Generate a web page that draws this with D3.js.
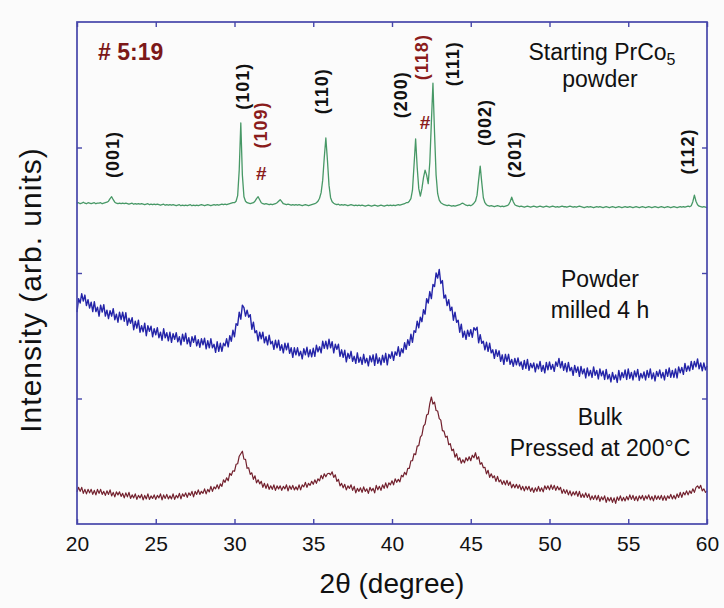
<!DOCTYPE html>
<html>
<head>
<meta charset="utf-8">
<script src="https://cdn.jsdelivr.net/npm/d3@7"></script>
<style>
  body { margin: 0; background: #fbfbfb; }
  svg { display: block; font-family: "Liberation Sans", Arial, Helvetica, sans-serif; }
</style>
</head>
<body>
<div id="xrd"><svg width="724" height="608"></svg></div>
<script>
// 2-theta scan grid, 0.1 degree steps from 20 to 60
var angles = d3.range(200, 601).map(function(i) { return i / 10; });

// intensities (offset for display), one row per degree
var startingPowder = [
  63.9, 64.0, 63.8, 63.9, 64.1, 63.9, 63.8, 64.0, 63.9, 63.8,
  63.9, 64.0, 63.8, 63.9, 63.9, 64.0, 63.8, 63.9, 64.0, 64.1,
  64.3, 64.8, 65.2, 64.6, 64.1, 63.9, 63.8, 63.9, 63.8, 63.9,
  63.8, 63.9, 63.8, 63.7, 63.8, 63.9, 63.7, 63.8, 63.7, 63.8,
  63.7, 63.8, 63.7, 63.6, 63.7, 63.8, 63.6, 63.7, 63.6, 63.7,
  63.6, 63.7, 63.6, 63.5, 63.6, 63.7, 63.5, 63.6, 63.5, 63.6,
  63.5, 63.6, 63.5, 63.4, 63.5, 63.6, 63.4, 63.5, 63.4, 63.5,
  63.4, 63.5, 63.6, 63.4, 63.5, 63.4, 63.5, 63.4, 63.5, 63.6,
  63.5, 63.4, 63.5, 63.6, 63.5, 63.4, 63.5, 63.6, 63.5, 63.6,
  63.5, 63.6, 63.7, 63.6, 63.7, 63.6, 63.7, 63.8, 63.9, 64.0,
  64.0, 64.3, 65.4, 70.5, 79.9, 69.5, 65.2, 64.3, 64.0, 63.9,
  63.8, 63.9, 64.0, 64.3, 64.8, 65.2, 64.6, 64.0, 63.8, 63.7,
  63.8, 63.7, 63.6, 63.7, 63.6, 63.7, 63.8, 64.0, 64.3, 64.6,
  64.2, 63.8, 63.7, 63.6, 63.7, 63.6, 63.5, 63.6, 63.5, 63.6,
  63.5, 63.6, 63.5, 63.4, 63.5, 63.6, 63.5, 63.4, 63.5, 63.6,
  63.7, 63.8, 64.0, 64.3, 64.9, 66.0, 68.5, 73.0, 76.9, 72.5,
  67.5, 65.0, 64.2, 63.9, 63.7, 63.6, 63.7, 63.5, 63.6, 63.5,
  63.6, 63.5, 63.4, 63.5, 63.6, 63.5, 63.4, 63.5, 63.4, 63.5,
  63.4, 63.5, 63.4, 63.3, 63.4, 63.5, 63.4, 63.3, 63.4, 63.5,
  63.4, 63.3, 63.4, 63.5, 63.4, 63.3, 63.4, 63.5, 63.4, 63.5,
  63.4, 63.5, 63.4, 63.5, 63.6, 63.5, 63.6, 63.7, 63.8, 64.0,
  64.0, 64.3, 64.8, 66.5, 71.5, 76.7, 71.0, 66.8, 65.3, 66.8,
  69.0, 70.5, 69.5, 67.8, 72.0, 80.0, 87.8, 78.0, 69.5, 65.8,
  64.5, 64.0, 63.8, 63.6, 63.5, 63.4, 63.5, 63.4, 63.3, 63.4,
  63.3, 63.4, 63.5, 63.6, 63.8, 63.9, 63.7, 63.5, 63.4, 63.5,
  63.4, 63.6, 63.9, 64.3, 65.5, 68.5, 71.3, 68.0, 65.0, 64.0,
  63.6, 63.4, 63.3, 63.4, 63.3, 63.2, 63.3, 63.4, 63.3, 63.2,
  63.3, 63.2, 63.3, 63.4, 63.6, 64.2, 65.1, 64.2, 63.6, 63.4,
  63.3, 63.2, 63.3, 63.2, 63.1, 63.2, 63.3, 63.2, 63.1, 63.2,
  63.3, 63.2, 63.1, 63.2, 63.3, 63.2, 63.1, 63.2, 63.3, 63.2,
  63.1, 63.2, 63.3, 63.2, 63.1, 63.2, 63.1, 63.2, 63.3, 63.2,
  63.2, 63.1, 63.2, 63.3, 63.2, 63.1, 63.2, 63.1, 63.2, 63.3,
  63.2, 63.1, 63.0, 63.1, 63.2, 63.1, 63.2, 63.1, 63.0, 63.1,
  63.2, 63.1, 63.2, 63.1, 63.0, 63.1, 63.2, 63.1, 63.0, 63.1,
  63.2, 63.1, 63.0, 63.1, 63.2, 63.1, 63.0, 63.1, 63.2, 63.1,
  63.1, 63.2, 63.1, 63.0, 63.1, 63.2, 63.1, 63.0, 63.1, 63.2,
  63.1, 63.0, 63.1, 63.2, 63.1, 63.0, 63.1, 63.2, 63.1, 63.0,
  63.1, 63.2, 63.1, 63.0, 63.1, 63.2, 63.1, 63.0, 63.1, 63.2,
  63.1, 63.0, 63.1, 63.2, 63.1, 63.2, 63.1, 63.2, 63.3, 63.2,
  63.4, 64.2, 65.5, 64.3, 63.6, 63.3, 63.2, 63.1, 63.2, 63.1,
  63.0
];

var milledPowder = [
  42.2, 44.9, 44.0, 45.9, 44.4, 45.6, 43.5, 44.7, 43.0, 44.2,
  42.3, 44.3, 42.3, 43.2, 41.4, 43.6, 42.2, 43.7, 41.4, 42.6,
  40.9, 42.5, 41.4, 42.9, 40.7, 41.8, 40.2, 42.2, 40.7, 42.2,
  40.4, 42.1, 39.6, 41.0, 40.0, 41.1, 38.7, 40.4, 39.0, 40.6,
  38.2, 39.5, 38.3, 40.0, 37.5, 39.5, 38.4, 39.4, 37.3, 38.9,
  37.7, 39.1, 37.1, 38.2, 36.6, 38.9, 37.1, 38.1, 36.5, 38.2,
  36.2, 37.9, 36.8, 38.1, 36.3, 37.3, 35.7, 37.8, 36.4, 38.0,
  35.9, 37.1, 35.4, 37.3, 36.2, 37.5, 35.5, 36.7, 35.2, 36.9,
  35.7, 37.0, 34.9, 36.5, 35.1, 36.9, 35.1, 35.8, 34.2, 36.3,
  34.4, 36.0, 34.4, 36.0, 35.5, 36.9, 35.3, 37.5, 36.4, 38.6,
  37.3, 39.9, 39.6, 42.2, 40.8, 43.6, 43.1, 41.4, 42.6, 41.2,
  41.7, 38.8, 40.2, 38.1, 38.5, 36.5, 38.2, 36.9, 38.2, 36.1,
  37.3, 35.7, 37.6, 35.9, 36.4, 34.8, 36.6, 35.1, 36.6, 34.6,
  35.7, 34.1, 36.0, 34.7, 36.0, 34.0, 35.1, 33.2, 35.1, 33.7,
  35.1, 33.5, 34.4, 32.9, 34.9, 33.7, 35.2, 33.3, 34.7, 33.3,
  35.0, 33.4, 35.6, 34.3, 35.3, 34.1, 36.4, 35.0, 36.4, 34.9,
  36.8, 35.1, 36.3, 34.1, 35.8, 34.8, 35.8, 33.4, 34.7, 33.2,
  34.6, 32.3, 34.0, 33.0, 34.4, 32.4, 33.4, 32.0, 34.1, 32.2,
  33.2, 31.8, 33.8, 32.1, 33.0, 31.5, 33.5, 32.3, 33.7, 31.6,
  33.9, 32.0, 33.1, 31.7, 33.6, 32.2, 34.0, 31.7, 33.8, 33.0,
  34.3, 32.6, 34.3, 33.6, 35.3, 33.4, 34.9, 34.1, 36.1, 34.8,
  36.7, 35.6, 37.8, 36.2, 38.5, 38.2, 40.4, 39.1, 41.2, 40.3,
  42.7, 41.8, 44.9, 44.0, 46.3, 44.9, 47.7, 47.3, 50.0, 49.0,
  50.7, 47.9, 48.5, 45.0, 45.6, 43.5, 44.7, 42.5, 43.2, 40.6,
  42.2, 40.2, 40.6, 38.2, 39.8, 37.2, 38.4, 36.8, 38.6, 37.4,
  38.7, 37.2, 39.1, 38.6, 39.2, 36.1, 37.7, 36.0, 36.4, 34.7,
  36.2, 34.4, 36.0, 34.1, 34.7, 33.0, 34.7, 33.4, 34.5, 32.4,
  33.7, 31.8, 33.8, 32.4, 33.8, 31.8, 32.8, 31.4, 33.0, 31.7,
  33.1, 31.5, 32.3, 30.8, 32.6, 31.0, 32.8, 30.6, 32.0, 31.1,
  32.1, 30.3, 31.9, 30.9, 32.4, 30.4, 31.6, 30.1, 32.2, 30.7,
  32.3, 30.8, 31.8, 30.4, 32.3, 31.4, 33.0, 31.1, 32.4, 30.6,
  32.0, 30.3, 32.2, 30.5, 31.2, 29.6, 31.6, 30.2, 31.3, 29.4,
  31.4, 29.9, 30.9, 29.1, 31.1, 29.5, 30.6, 29.2, 31.3, 29.6,
  30.6, 28.9, 30.9, 29.5, 30.5, 28.8, 30.8, 28.9, 29.8, 28.3,
  30.2, 28.8, 29.7, 28.2, 30.6, 28.7, 30.2, 29.2, 30.7, 28.8,
  30.9, 29.0, 30.2, 28.7, 30.5, 29.3, 30.8, 28.6, 30.0, 29.1,
  30.3, 28.7, 30.6, 29.2, 30.9, 28.9, 30.1, 28.5, 30.4, 29.4,
  30.7, 29.1, 30.2, 28.7, 30.8, 29.4, 31.1, 29.2, 30.6, 29.2,
  30.9, 29.1, 31.3, 30.1, 31.2, 29.8, 32.0, 30.4, 31.5, 30.5,
  32.4, 30.8, 32.4, 31.3, 32.9, 30.9, 32.1, 30.5, 32.1, 30.7,
  31.5
];

var pressedBulk = [
  6.4, 7.3, 6.5, 7.3, 6.1, 6.9, 6.0, 6.9, 6.2, 6.9,
  5.9, 6.7, 5.8, 6.9, 6.1, 6.9, 5.9, 6.5, 5.7, 6.6,
  5.9, 6.8, 5.6, 6.3, 5.4, 6.4, 5.8, 6.4, 5.5, 6.1,
  5.2, 6.2, 5.4, 6.3, 5.1, 5.8, 5.2, 6.0, 4.9, 5.7,
  5.2, 5.9, 4.8, 5.7, 5.0, 6.0, 4.9, 5.6, 5.1, 5.8,
  4.9, 5.7, 5.2, 6.0, 4.8, 5.8, 5.1, 5.9, 5.0, 5.6,
  5.0, 6.0, 4.9, 5.7, 5.2, 6.1, 5.0, 6.0, 5.5, 6.2,
  5.3, 6.2, 5.7, 6.5, 5.4, 6.5, 5.9, 6.8, 5.9, 6.5,
  6.1, 7.0, 6.0, 6.9, 6.4, 7.5, 6.5, 7.4, 7.0, 7.8,
  7.0, 8.0, 7.5, 8.8, 8.3, 9.2, 8.6, 10.1, 9.7, 10.6,
  10.5, 11.9, 12.0, 13.5, 14.0, 14.5, 12.9, 12.9, 11.1, 11.2,
  9.9, 10.2, 8.9, 9.6, 8.2, 8.8, 8.0, 8.5, 7.3, 8.1,
  7.1, 8.0, 6.9, 7.6, 6.9, 7.8, 6.7, 7.6, 7.0, 7.6,
  6.7, 7.5, 7.0, 7.8, 6.6, 7.6, 6.9, 7.7, 6.8, 7.4,
  6.8, 7.8, 6.8, 7.8, 7.4, 8.3, 7.3, 8.1, 7.7, 8.5,
  7.9, 8.8, 8.1, 9.0, 8.6, 9.7, 9.0, 10.0, 9.4, 10.0,
  10.1, 9.8, 10.4, 9.3, 9.8, 8.5, 8.9, 7.6, 8.1, 7.2,
  7.9, 6.8, 7.6, 7.1, 7.8, 6.7, 7.5, 6.2, 7.1, 6.5,
  7.2, 6.3, 7.4, 6.5, 7.0, 6.1, 7.3, 6.6, 7.1, 6.2,
  7.7, 6.8, 7.5, 6.7, 7.8, 7.1, 8.2, 7.2, 8.2, 7.8,
  8.6, 7.8, 9.0, 8.3, 8.9, 8.4, 9.7, 9.4, 10.3, 9.8,
  11.1, 11.1, 12.6, 12.6, 14.0, 13.8, 15.5, 15.6, 17.3, 17.7,
  19.5, 19.9, 21.7, 21.9, 24.0, 25.3, 23.9, 24.3, 22.6, 22.5,
  21.0, 20.7, 18.6, 18.5, 17.3, 17.5, 15.8, 16.0, 14.6, 14.9,
  13.3, 14.0, 12.7, 13.2, 12.1, 12.8, 12.2, 13.2, 12.6, 13.4,
  12.6, 13.7, 13.2, 14.2, 12.9, 13.4, 11.9, 12.2, 11.2, 11.3,
  10.0, 10.7, 9.3, 10.0, 9.2, 9.6, 8.5, 9.5, 8.4, 8.8,
  7.9, 8.6, 7.8, 8.7, 7.7, 8.4, 7.2, 7.9, 7.2, 7.9,
  7.1, 7.8, 6.8, 7.5, 6.6, 7.5, 6.8, 7.5, 6.5, 7.2,
  6.3, 7.2, 6.5, 7.5, 6.5, 7.2, 6.4, 7.6, 6.9, 7.6,
  6.8, 7.8, 6.9, 7.7, 6.7, 7.5, 6.8, 7.3, 6.1, 6.9,
  6.1, 6.8, 5.8, 6.6, 5.6, 6.4, 5.8, 6.5, 5.5, 6.5,
  5.3, 6.0, 5.3, 6.2, 5.3, 6.0, 4.8, 5.6, 4.9, 5.7,
  4.8, 5.7, 4.5, 5.4, 4.8, 5.6, 4.3, 5.3, 4.6, 5.3,
  4.3, 5.2, 4.1, 5.4, 4.7, 5.6, 4.6, 5.3, 4.6, 5.5,
  4.8, 5.8, 4.9, 5.7, 4.7, 5.5, 4.6, 5.6, 5.0, 5.7,
  4.7, 5.6, 5.0, 5.8, 4.8, 5.5, 4.6, 5.7, 4.9, 5.6,
  4.9, 5.7, 4.7, 5.6, 4.7, 5.6, 5.1, 5.9, 5.0, 5.7,
  5.0, 6.0, 5.3, 6.3, 5.3, 6.3, 5.8, 6.6, 5.8, 6.6,
  6.1, 7.0, 6.3, 7.3, 7.6, 7.1, 7.7, 6.6, 7.0, 6.3,
  6.6
];

var xTicks = [20, 25, 30, 35, 40, 45, 50, 55, 60];
var yTicks = [25, 50, 75];

// reflection labels of the starting powder
var hklNames = ["(001)", "(101)", "(110)", "(200)", "(111)", "(002)", "(201)", "(112)"];
var hklAngles = [22.3, 30.55, 35.55, 40.6, 43.85, 45.9, 47.8, 58.8];
var hklLevels = [73.6, 87.2, 86.2, 85.5, 91.7, 80.0, 73.6, 74.2];

// impurity phase reflections
var impurityNames = ["(109)", "(118)"];
var impurityAngles = [31.7, 41.9];
var impurityLevels = [79.5, 93.0];
var hashAngles = [31.7, 42.1];
var hashLevels = [69.9, 79.9];

function XrdPlot() {
  var svg = d3.select("#xrd svg"),
      left = 77, top = 22, right = 707, bottom = 524;

  var x = d3.scaleLinear().domain([20, 60]).range([left, right]),
      y = d3.scaleLinear().domain([0, 100]).range([bottom, top]);

  var frameColor = "#4646aa";

  // scans
  var scans = [
    { values: startingPowder, color: "#479866", width: 1.3 },
    { values: milledPowder, color: "#2424a8", width: 1.4 },
    { values: pressedBulk, color: "#72202d", width: 1.2 }
  ];

  var line = d3.line()
      .x(function(d) { return x(d[0]); })
      .y(function(d) { return y(d[1]); });

  svg.selectAll("path.scan")
    .data(scans)
    .enter().append("path")
    .attr("class", "scan")
    .attr("d", function(s) { return line(d3.zip(angles, s.values)); })
    .attr("fill", "none")
    .attr("stroke", function(s) { return s.color; })
    .attr("stroke-width", function(s) { return s.width; })
    .attr("stroke-linejoin", "round");

  // axes, ticks pointing inward
  var bottomAxis = svg.append("g")
      .attr("transform", "translate(0," + bottom + ")")
      .call(d3.axisBottom(x).tickValues(xTicks).tickSizeInner(-5).tickSizeOuter(0).tickPadding(12));
  bottomAxis.selectAll("text")
      .style("font-size", "21px")
      .attr("fill", "#111");

  svg.append("g")
      .attr("transform", "translate(0," + top + ")")
      .call(d3.axisTop(x).tickValues(xTicks).tickSizeInner(-5).tickSizeOuter(0).tickFormat(""));

  svg.append("g")
      .attr("transform", "translate(" + left + ",0)")
      .call(d3.axisLeft(y).tickValues(yTicks).tickSizeInner(-5).tickSizeOuter(0).tickFormat(""));

  svg.append("g")
      .attr("transform", "translate(" + right + ",0)")
      .call(d3.axisRight(y).tickValues(yTicks).tickSizeInner(-5).tickSizeOuter(0).tickFormat(""));

  svg.selectAll(".domain").remove();
  svg.selectAll(".tick line").attr("stroke", frameColor).attr("stroke-width", 1.4);

  svg.append("rect")
      .attr("x", left).attr("y", top)
      .attr("width", right - left).attr("height", bottom - top)
      .attr("fill", "none")
      .attr("stroke", frameColor)
      .attr("stroke-width", 1.7);

  // axis titles
  svg.append("text")
      .attr("x", (left + right) / 2)
      .attr("y", 593)
      .attr("text-anchor", "middle")
      .style("font-size", "28px")
      .attr("fill", "#111")
      .text("2\u03b8 (degree)");

  svg.append("text")
      .attr("transform", "translate(30,290) rotate(-90)")
      .attr("text-anchor", "middle")
      .attr("dominant-baseline", "central")
      .style("font-size", "30px")
      .style("letter-spacing", "1px")
      .attr("fill", "#111")
      .text("Intensity (arb. units)");

  // peak indexing
  function rotatedLabels(names, angs, levels, color) {
    svg.selectAll(null)
      .data(names)
      .enter().append("text")
      .attr("transform", function(d, i) {
        return "translate(" + x(angs[i]) + "," + y(levels[i]) + ") rotate(-90)";
      })
      .attr("text-anchor", "middle")
      .attr("dominant-baseline", "central")
      .style("font-size", "18px")
      .style("font-weight", "bold")
      .style("letter-spacing", "1px")
      .attr("fill", color)
      .text(function(d) { return d; });
  }
  rotatedLabels(hklNames, hklAngles, hklLevels, "#111");
  rotatedLabels(impurityNames, impurityAngles, impurityLevels, "#8a1c1c");

  svg.selectAll(null)
    .data(hashAngles)
    .enter().append("text")
    .attr("x", function(d) { return x(d); })
    .attr("y", function(d, i) { return y(hashLevels[i]); })
    .attr("text-anchor", "middle")
    .attr("dominant-baseline", "central")
    .style("font-size", "19px")
    .style("font-weight", "bold")
    .attr("fill", "#8a1c1c")
    .text("#");

  svg.append("text")
      .attr("x", 98).attr("y", 60)
      .style("font-size", "23px")
      .style("font-weight", "bold")
      .attr("fill", "#7c1818")
      .text("# 5:19");

  // sample captions
  var caption = svg.append("text")
      .attr("x", 602).attr("y", 60)
      .attr("text-anchor", "middle")
      .style("font-size", "23px")
      .attr("fill", "#111");
  caption.append("tspan").text("Starting PrCo");
  caption.append("tspan").attr("dy", 5).style("font-size", "16px").text("5");

  var captions = [
    ["powder", 87],
    ["Powder", 287],
    ["milled 4 h", 318],
    ["Bulk", 425],
    ["Pressed at 200\u00b0C", 456]
  ];
  svg.selectAll(null)
    .data(captions)
    .enter().append("text")
    .attr("x", 600)
    .attr("y", function(d) { return d[1]; })
    .attr("text-anchor", "middle")
    .style("font-size", "23px")
    .attr("fill", "#111")
    .text(function(d) { return d[0]; });
}

XrdPlot();
</script>
</body>
</html>
